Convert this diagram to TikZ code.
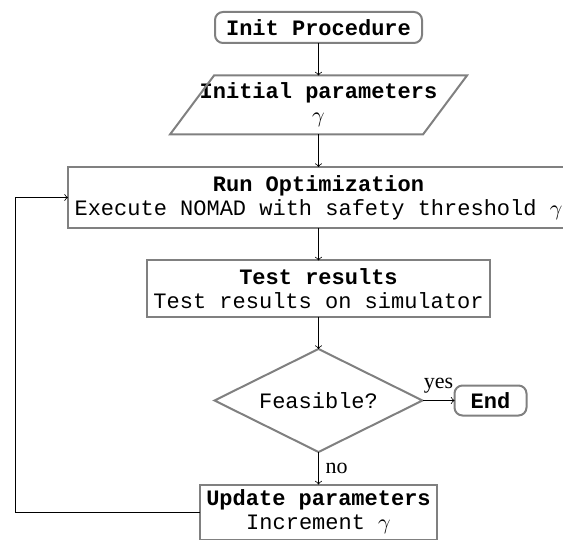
\documentclass[tikz,border=0pt]{standalone}
\usepackage{fontspec}
\setmainfont{Liberation Serif}
\setmonofont{Liberation Mono}
\usetikzlibrary{positioning,shapes.geometric}

\begin{document}
\begin{tikzpicture}[
                x=0.5pt, y=-0.5pt,
                node distance=16.25pt,
                >=to,
                box/.style={rectangle,draw=gray,line width=1pt,align=center,
                    inner ysep=1pt,outer sep=0pt,
                    font=\fontsize{11}{12}\selectfont\ttfamily},
                terminal/.style={box,rounded corners=4pt},
                io/.style={box,draw=none,minimum width=148.5pt,minimum height=29.5pt},
                decision/.style={box,diamond,aspect=2,inner sep=0pt,
                    minimum width=104pt,minimum height=51.5pt},
                label/.style={font=\fontsize{11}{12}\selectfont\rmfamily}
            ]

            \useasboundingbox (0,0) rectangle (563,540);

            \node[terminal,minimum width=103.5pt,minimum height=15.5pt] (init) at (318.5,27.5)
                {\textbf{Init Procedure}};
            \node[io,below=of init] (params)
                {\textbf{Initial parameters}\\$\gamma$};
            \draw[draw=gray,line width=1pt]
                ([xshift=22pt]params.north west) -- (params.north east)
                -- ([xshift=-22pt]params.south east) -- (params.south west) -- cycle;
            \node[box,minimum width=248pt,minimum height=30.5pt,below=of params] (run)
                {\textbf{Run Optimization}\\Execute NOMAD with safety threshold $\gamma$};
            \node[box,minimum width=168.5pt,minimum height=28pt,below=of run] (test)
                {\textbf{Test results}\\Test results on simulator};
            \node[decision,below=of test] (feasible) {Feasible?};
            \node[terminal,minimum width=36pt,minimum height=15pt,right=16pt of feasible] (end)
                {\textbf{End}};
            \node[box,minimum width=118.5pt,minimum height=27.5pt,below=of feasible] (update)
                {\textbf{Update parameters}\\Increment $\gamma$};

            \draw[->] (init) -- (params);
            \draw[->] (params) -- (run);
            \draw[->] (run) -- (test);
            \draw[->] (test) -- (feasible);
            \draw[->] (feasible) -- node[label,above] {yes} (end);
            \draw[->] (feasible) -- node[label,right] {no} (update);
            \draw[->] (update.west) -- ++(-92pt,0) |- (run.west);

        \end{tikzpicture}
\end{document}
